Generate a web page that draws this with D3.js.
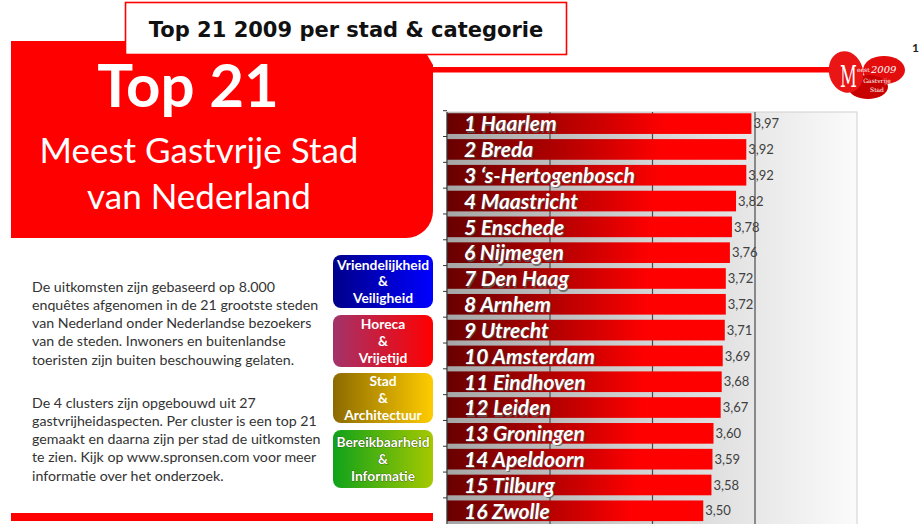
<!DOCTYPE html>
<html>
<head>
<meta charset="utf-8">
<script src="https://cdnjs.cloudflare.com/ajax/libs/d3/7.8.5/d3.min.js"></script>
<style>
  body { margin: 0; background: #fff; }
  svg { display: block; }
</style>
</head>
<body>
<script>
var width = 921, height = 524;

// data (only the first 16 of the 21 cities are visible)
var ranks = [1, 2, 3, 4, 5, 6, 7, 8, 9, 10, 11, 12, 13, 14, 15, 16];
var cities = ["Haarlem", "Breda", "\u2018s-Hertogenbosch", "Maastricht", "Enschede", "Nijmegen",
  "Den Haag", "Arnhem", "Utrecht", "Amsterdam", "Eindhoven", "Leiden", "Groningen",
  "Apeldoorn", "Tilburg", "Zwolle"];
var scores = [3.97, 3.92, 3.92, 3.82, 3.78, 3.76, 3.72, 3.72, 3.71, 3.69, 3.68, 3.67, 3.60, 3.59, 3.58, 3.50];
var gridValues = [2, 3, 4];

var clusters = [
  ["Vriendelijkheid", "&", "Veiligheid"],
  ["Horeca", "&", "Vrijetijd"],
  ["Stad", "&", "Architectuur"],
  ["Bereikbaarheid", "&", "Informatie"]
];
var clusterColors = [["#00008a", "#0000ff"], ["#a2336a", "#ff0000"], ["#8c6a00", "#ffcc00"], ["#0fa21a", "#a6c800"]];

var intro1 = [
  "De uitkomsten zijn gebaseerd op 8.000",
  "enqu\u00eates afgenomen in de 21 grootste steden",
  "van Nederland onder Nederlandse bezoekers",
  "van de steden. Inwoners en buitenlandse",
  "toeristen zijn buiten beschouwing gelaten."
];
var intro2 = [
  "De 4 clusters zijn opgebouwd uit 27",
  "gastvrijheidaspecten. Per cluster is een top 21",
  "gemaakt en daarna zijn per stad de uitkomsten",
  "te zien. Kijk op www.spronsen.com voor meer",
  "informatie over het onderzoek."
];

var svg = d3.select("body").append("svg")
    .attr("width", width)
    .attr("height", height);
var defs = svg.append("defs");

function hGrad(id, stops) {
  var g = defs.append("linearGradient").attr("id", id)
      .attr("x1", 0).attr("x2", 1).attr("y1", 0).attr("y2", 0);
  stops.forEach(function (s) {
    g.append("stop").attr("offset", s[0]).attr("stop-color", s[1]);
  });
}
hGrad("plotGrad", [[0, "#a6a6a6"], [0.5, "#d4d4d4"], [1, "#fbfbfb"]]);
hGrad("barGrad", [[0, "#680000"], [0.2, "#8e0000"], [0.5, "#cc0000"], [0.72, "#ff0000"], [1, "#ff0000"]]);
clusterColors.forEach(function (c, i) {
  hGrad("clusterGrad" + i, [[0, c[0]], [1, c[1]]]);
});

// ---------- left panel ----------
svg.append("path")
    .attr("d", "M11,41 H419 L433,65 V211 A27,27 0 0 1 406,238 H11 Z")
    .attr("fill", "#ff0000");

svg.append("rect")
    .attr("x", 432).attr("y", 67)
    .attr("width", 400).attr("height", 5.5)
    .attr("fill", "#ff0000");

svg.append("rect")
    .attr("x", 125.5).attr("y", 2.5)
    .attr("width", 441).attr("height", 52)
    .attr("fill", "#fff")
    .attr("stroke", "#ff0000")
    .attr("stroke-width", 1.6);

svg.append("text")
    .attr("x", 346).attr("y", 37)
    .attr("text-anchor", "middle")
    .style("font-family", "'DejaVu Sans'")
    .style("font-weight", "bold")
    .style("font-size", "21px")
    .attr("fill", "#111")
    .text("Top 21 2009 per stad & categorie");

svg.append("text")
    .attr("x", 188).attr("y", 107)
    .attr("text-anchor", "middle")
    .style("font-family", "Lato")
    .style("font-weight", "bold")
    .style("font-size", "60px")
    .attr("fill", "#fff")
    .text("Top 21");

svg.selectAll("text.sub")
    .data(["Meest Gastvrije Stad", "van Nederland"])
  .enter().append("text")
    .attr("class", "sub")
    .attr("x", 199)
    .attr("y", function (d, i) { return 163 + i * 46; })
    .attr("text-anchor", "middle")
    .style("font-family", "Lato")
    .style("font-size", "35px")
    .attr("fill", "#fff")
    .text(function (d) { return d; });

// intro paragraphs
[intro1, intro2].forEach(function (lines, p) {
  svg.selectAll("text.intro" + p)
      .data(lines)
    .enter().append("text")
      .attr("class", "intro" + p)
      .attr("x", 32)
      .attr("y", function (d, i) { return (p == 0 ? 291.5 : 407.5) + i * 18.3; })
      .style("font-family", "Lato")
      .style("font-size", "14.2px")
      .attr("fill", "#333")
      .text(function (d) { return d; });
});

// cluster boxes
var boxTops = [255, 315, 373, 430];
var boxHeights = [53, 52, 50, 58];
clusters.forEach(function (lines, i) {
  var g = svg.append("g");
  g.append("rect")
      .attr("x", 333).attr("y", boxTops[i])
      .attr("width", 100).attr("height", boxHeights[i])
      .attr("rx", 8).attr("ry", 8)
      .attr("fill", "url(#clusterGrad" + i + ")");
  var mid = boxTops[i] + boxHeights[i] / 2;
  g.selectAll("text")
      .data(lines)
    .enter().append("text")
      .attr("x", 383)
      .attr("y", function (d, j) { return mid + (j - 1) * 16.8; })
      .attr("dy", "0.35em")
      .attr("text-anchor", "middle")
      .style("font-family", "Lato")
      .style("font-weight", "bold")
      .style("font-size", "13.8px")
      .attr("fill", "#fff")
      .attr("stroke", i == 3 ? "#2a3a00" : "none")
      .attr("stroke-width", 0.6)
      .attr("paint-order", "stroke")
      .text(function (d) { return d; });
});

svg.append("rect")
    .attr("x", 11).attr("y", 513)
    .attr("width", 422).attr("height", 8)
    .attr("fill", "#ff0000");

// ---------- logo ----------
var logo = svg.append("g");
logo.append("ellipse").attr("cx", 884).attr("cy", 70).attr("rx", 21).attr("ry", 14).attr("fill", "#e30d0d");
logo.append("ellipse").attr("cx", 868).attr("cy", 87).attr("rx", 20).attr("ry", 12).attr("fill", "#c80000");
logo.append("ellipse").attr("cx", 846).attr("cy", 72).attr("rx", 17).attr("ry", 21)
    .attr("transform", "rotate(-15,846,72)").attr("fill", "#ea1515");
logo.append("text")
    .attr("transform", "translate(840,87) scale(0.55,1)")
    .style("font-family", "'DejaVu Serif'").style("font-size", "30px").attr("fill", "#fff").text("M");
logo.append("text").attr("x", 857).attr("y", 72)
    .style("font-family", "'DejaVu Serif'").style("font-size", "6px").attr("fill", "#fff").text("eest");
logo.append("text").attr("x", 871).attr("y", 73)
    .style("font-family", "'DejaVu Serif'").style("font-style", "italic").style("font-size", "10px").attr("fill", "#fff").text("2009");
logo.append("text").attr("x", 877).attr("y", 83).attr("text-anchor", "middle")
    .style("font-family", "'DejaVu Serif'").style("font-size", "6px").attr("fill", "#fff").text("Gastvrije");
logo.append("text").attr("x", 877).attr("y", 92).attr("text-anchor", "middle")
    .style("font-family", "'DejaVu Serif'").style("font-size", "6px").attr("fill", "#fff").text("Stad");
svg.append("text").attr("x", 912).attr("y", 52)
    .style("font-family", "Lato").style("font-weight", "bold").style("font-size", "12px")
    .attr("fill", "#222").text("1");

// ---------- bar chart ----------
var x = d3.scaleLinear().domain([1, 5]).range([447, 857]);
var y = d3.scaleBand().domain(cities).range([112, 522.4]).paddingInner(0.2).paddingOuter(0.05);
var gap = y.step() - y.bandwidth();
var comma = d3.formatLocale({decimal: ",", thousands: ".", grouping: [3], currency: ["", ""]}).format(".2f");

svg.append("rect")
    .attr("x", x(1)).attr("y", 112)
    .attr("width", x(5) - x(1)).attr("height", height)
    .attr("fill", "url(#plotGrad)")
    .attr("stroke", "#cfcfcf")
    .attr("stroke-width", 1);

svg.append("g")
    .attr("transform", "translate(0,112)")
    .call(d3.axisTop(x).tickValues(gridValues).tickSize(-(height - 112)).tickFormat(""))
    .call(function (g) { g.select(".domain").remove(); })
    .selectAll("line")
    .attr("stroke", "#4a4a4a")
    .attr("stroke-width", 1.2);

svg.selectAll("rect.bar")
    .data(scores)
  .enter().append("rect")
    .attr("class", "bar")
    .attr("x", x(1))
    .attr("y", function (d, i) { return y(cities[i]); })
    .attr("width", function (d) { return x(d) - x(1); })
    .attr("height", y.bandwidth())
    .attr("fill", "url(#barGrad)");

// left category axis: line with ticks between categories
svg.append("line")
    .attr("x1", x(1)).attr("x2", x(1))
    .attr("y1", 112).attr("y2", height)
    .attr("stroke", "#333").attr("stroke-width", 1.2);
svg.selectAll("line.ytick")
    .data(cities)
  .enter().append("line")
    .attr("class", "ytick")
    .attr("x1", x(1) - 4).attr("x2", x(1))
    .attr("y1", function (d) { return y(d) - gap / 2; })
    .attr("y2", function (d) { return y(d) - gap / 2; })
    .attr("stroke", "#333");

function barLabel(d, i) { return ranks[i] + " " + cities[i]; }

svg.selectAll("text.shadow")
    .data(scores)
  .enter().append("text")
    .attr("class", "shadow")
    .attr("x", 464 + 1.2)
    .attr("y", function (d, i) { return y(cities[i]) + y.bandwidth() - 2.5 + 1.2; })
    .style("font-family", "Lato")
    .style("font-weight", "bold")
    .style("font-style", "italic")
    .style("font-size", "21px")
    .attr("fill", "#5a5a5a")
    .attr("opacity", 0.75)
    .text(barLabel);

svg.selectAll("text.name")
    .data(scores)
  .enter().append("text")
    .attr("class", "name")
    .attr("x", 464)
    .attr("y", function (d, i) { return y(cities[i]) + y.bandwidth() - 2.5; })
    .style("font-family", "Lato")
    .style("font-weight", "bold")
    .style("font-style", "italic")
    .style("font-size", "21px")
    .attr("fill", "#fff")
    .text(barLabel);

svg.selectAll("text.value")
    .data(scores)
  .enter().append("text")
    .attr("class", "value")
    .attr("x", function (d) { return x(d) + 2; })
    .attr("y", function (d, i) { return y(cities[i]) + y.bandwidth() / 2; })
    .attr("dy", "0.36em")
    .style("font-family", "Lato")
    .style("font-size", "13px")
    .attr("fill", "#404040")
    .text(function (d) { return comma(d); });
</script>
</body>
</html>
